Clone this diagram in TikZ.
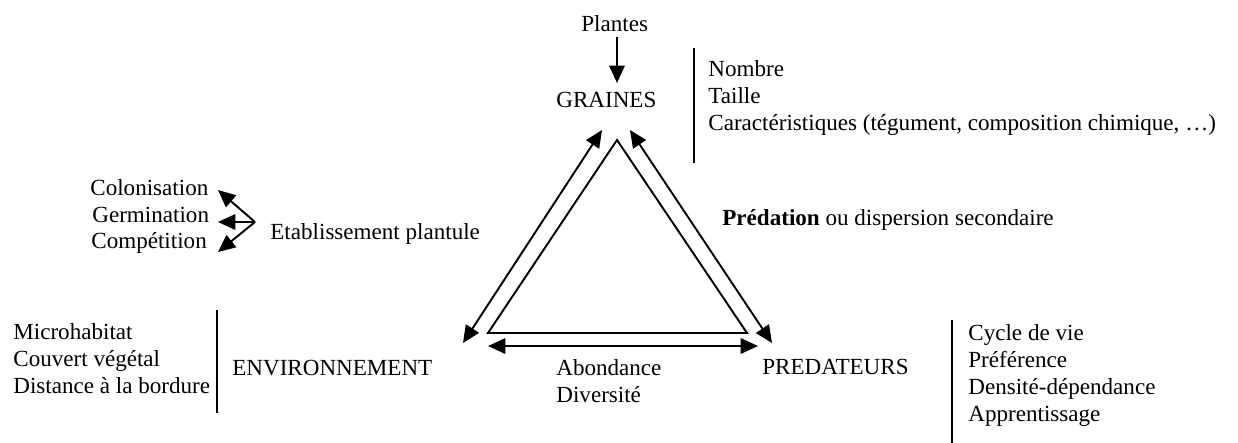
\documentclass[tikz,border=0pt]{standalone}
\usepackage{fontspec}
\setmainfont{Liberation Serif}
\usetikzlibrary{arrows.meta}
\begin{document}
\begin{tikzpicture}[x=0.52pt,y=-0.52pt,
  lbl/.style={anchor=base west,inner sep=0pt,font=\fontsize{12}{14}\selectfont},
  ln/.style={line width=1pt},
  arr/.style={line width=1pt,-{Triangle[length=9pt,width=8pt]}},
  darr/.style={line width=1pt,{Triangle[length=9pt,width=8pt]}-{Triangle[length=9pt,width=8pt]}}]
\useasboundingbox (0,0) rectangle (1238,443);

% top
\node[lbl] (plantes) at (581,32) {Plantes};
\node[lbl] (graines) at (556,108) {GRAINES};
\coordinate (pa) at (617,37);
\coordinate (pb) at (617,83);
\draw[arr] (pa) -- (pb);
\coordinate (gl1) at (694,48);
\coordinate (gl2) at (694,163);
\draw[ln] (gl1) -- (gl2);
\node[lbl] (nombre) at (708,77) {Nombre};
\node[lbl] (taille) at (708,104) {Taille};
\node[lbl] (carac) at (708,131) {Caractéristiques (tégument, composition chimique, …)};

% triangle
\coordinate (ta) at (617,140);
\coordinate (tl) at (488,333);
\coordinate (tr) at (747,333);
\draw[ln,line join=miter] (ta) -- (tl) -- (tr) -- cycle;
\coordinate (la) at (602,130);
\coordinate (lb) at (463,343);
\draw[darr] (la) -- (lb);
\coordinate (ra) at (630,130);
\coordinate (rb) at (772,343);
\draw[darr] (ra) -- (rb);
\coordinate (ba) at (488,346);
\coordinate (bb) at (758,346);
\draw[darr] (ba) -- (bb);
\node[lbl] (abond) at (556,375) {Abondance};
\node[lbl] (divers) at (556,402) {Diversité};
\node[lbl] (pred) at (722,225) {\textbf{Prédation} ou dispersion secondaire};

% left upper
\node[lbl] (etab) at (270,239) {Etablissement plantule};
\node[lbl] (colon) at (90,196) {Colonisation};
\node[lbl] (germ) at (92,222) {Germination};
\node[lbl] (compet) at (91,248) {Compétition};
\coordinate (e0) at (255,222);
\coordinate (ec) at (218,190);
\coordinate (eg) at (218,222);
\coordinate (ep) at (218,252);
\draw[arr] (e0) -- (ec);
\draw[arr] (e0) -- (eg);
\draw[arr] (e0) -- (ep);

% environnement
\node[lbl] (env) at (232,375) {ENVIRONNEMENT};
\node[lbl] (micro) at (13,339) {Microhabitat};
\node[lbl] (couv) at (13,366) {Couvert végétal};
\node[lbl] (dist) at (13,393) {Distance à la bordure};
\coordinate (el1) at (217,310);
\coordinate (el2) at (217,413);
\draw[ln] (el1) -- (el2);

% predateurs
\node[lbl] (preds) at (762,374) {PREDATEURS};
\coordinate (pl1) at (952,320);
\coordinate (pl2) at (952,443);
\draw[ln] (pl1) -- (pl2);
\node[lbl] (cycle) at (968,340) {Cycle de vie};
\node[lbl] (pref) at (968,367) {Préférence};
\node[lbl] (dens) at (968,394) {Densité-dépendance};
\node[lbl] (appr) at (968,421) {Apprentissage};
\end{tikzpicture}
\end{document}
